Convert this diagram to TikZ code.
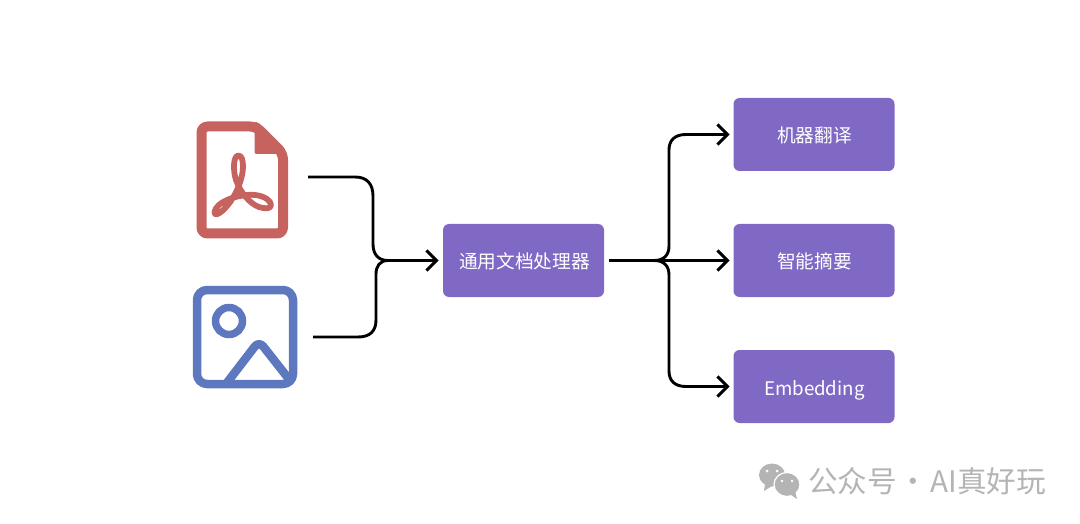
\documentclass[tikz,border=0pt]{standalone}
\usepackage{fontspec}
\setmainfont{Noto Sans CJK SC}
\usetikzlibrary{arrows.meta}
\definecolor{boxpurple}{HTML}{8069C4}
\definecolor{pdfred}{HTML}{C7635F}
\definecolor{imgblue}{HTML}{5D78BE}
\definecolor{wmgray}{HTML}{B4B4B4}
\tikzset{
  box/.style={fill=boxpurple,rounded corners=6pt,minimum width=161pt,minimum height=73pt,inner sep=0pt,text=white,font=\fontsize{18.7}{22}\selectfont,text height=15pt,text depth=0pt},
  lowtext/.style={text height=17pt},
  flow/.style={draw=black,line width=2.9pt},
  tipped/.style={flow,-{Straight Barb[length=10pt,width=20pt,line width=2.9pt]}},
  pdfline/.style={draw=pdfred,line width=10pt,line join=round},
  imgline/.style={draw=imgblue,line width=8.5pt,line join=round}
}
\begin{document}
\begin{tikzpicture}[x=1pt,y=-1pt]
\useasboundingbox (0,0) rectangle (1080,524);
% PDF icon
\path[pdfline,rounded corners=6pt] (201.5,126.5) -- (256,126.5) -- (283,153.5) -- (283,233.5) -- (201.5,233.5) -- cycle;
\fill[pdfred,rounded corners=2pt] (254.5,122) -- (254.5,154) -- (287,154) -- (258,122) -- cycle;
\draw[pdfred,line width=5.8pt,line join=round]
  (238.5,155.5) .. controls (242,155.5) and (243,161) .. (243,167)
  .. controls (243,178) and (236,196) .. (227,206)
  .. controls (222,212) and (217,215.5) .. (215,214)
  .. controls (213,212) and (217,205) .. (223,202)
  .. controls (232,197) and (245,194) .. (255,195)
  .. controls (265,196) and (271,201) .. (271,205)
  .. controls (271,209) and (265,209) .. (259,207)
  .. controls (250,204) and (240,192) .. (236,180)
  .. controls (233,171) and (233,155.5) .. (238.5,155.5) -- cycle;
% Image icon
\path[imgline,rounded corners=10pt] (197,290) rectangle (293,384);
\draw[imgline,line width=7.5pt] (229,321) circle (13.5);
\draw[imgline,rounded corners=7pt] (226,384) -- (259,341) -- (292,383);
% Nodes
\node[box] (proc) at (523.5,260.5) {\kern2pt 通用文档处理器};
\node[box,lowtext] (mt) at (814,134.5) {\kern0.8pt 机器翻译};
\node[box] (sum) at (814,260.5) {\kern0.8pt 智能摘要};
\node[box,lowtext] (emb) at (814,386.5) {\kern0.8pt Embedding};
\coordinate (pdfout) at (308,177);
\coordinate (imgout) at (313,337);
\coordinate (merge) at (388,260.5);
\coordinate (procin) at (438.5,260.5);
\coordinate (procout) at (609,260.5);
\coordinate (fork) at (654,260.5);
\coordinate (mtin) at (729.5,134.5);
\coordinate (sumin) at (729.5,260.5);
\coordinate (embin) at (729.5,386.5);
% Connectors
\draw[flow] (pdfout) -- (355,177) .. controls (367,177) and (373,184) .. (373,196) -- (373,244) .. controls (373,254) and (378,260.5) .. (merge);
\draw[flow] (imgout) -- (358,337) .. controls (370,337) and (376,331) .. (376,320) -- (376,274) .. controls (376,266) and (380,260.5) .. (merge);
\draw[tipped] (merge) -- (procin);
\draw[tipped] (procout) -- (sumin);
\draw[tipped] (fork) .. controls (664,260.5) and (669,255) .. (669,246) -- (669,150) .. controls (669,140) and (675,134.5) .. (686,134.5) -- (mtin);
\draw[tipped] (fork) .. controls (664,260.5) and (669,266) .. (669,275) -- (669,371) .. controls (669,381) and (675,386.5) .. (686,386.5) -- (embin);
% Watermark
\fill[wmgray] (772,475) ellipse (13 and 11.5);
\fill[wmgray] (765,484) -- (764,491) -- (772,486) -- cycle;
\fill[wmgray,draw=white,line width=1.2pt] (787,484.5) ellipse (13 and 12);
\fill[wmgray] (791,495) -- (797,499) -- (795,491) -- cycle;
\fill[white] (767,471) circle (1.5) (777,471) circle (1.5) (782,481) circle (1.4) (792,481) circle (1.4);
\node[text=wmgray,font=\fontsize{29.6}{34}\selectfont,inner sep=0pt,anchor=west] (wm) at (808,481) {公众号\hspace{2pt}·\hspace{2pt}AI真好玩};
\end{tikzpicture}
\end{document}
